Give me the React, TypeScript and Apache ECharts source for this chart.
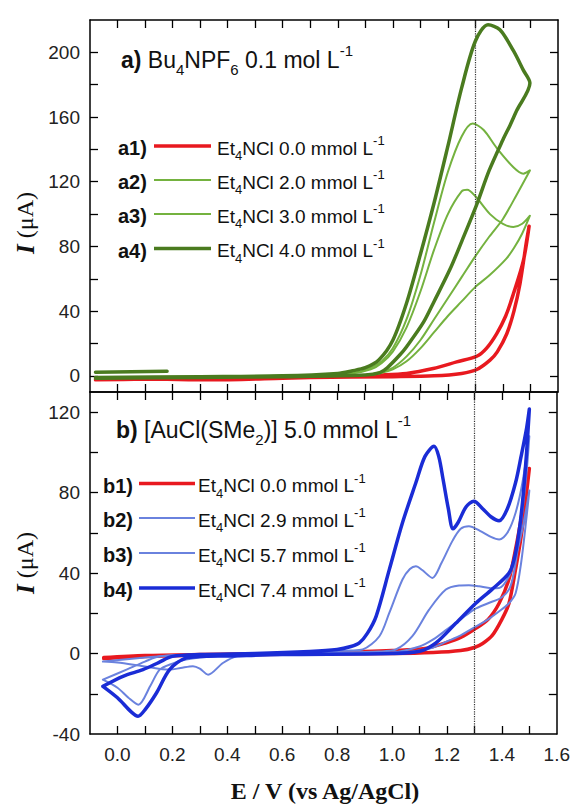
import React, { useEffect, useRef } from 'react';
import * as echarts from 'echarts';

// ---------- axis ticks / labels ----------
const xTickValues = [0, 0.1, 0.2, 0.3, 0.4, 0.5, 0.6, 0.7, 0.8, 0.9, 1.0, 1.1, 1.2, 1.3, 1.4, 1.5];
const xLabelValues = [0, 0.2, 0.4, 0.6, 0.8, 1.0, 1.2, 1.4, 1.6];
const topYTicks = [0, 20, 40, 60, 80, 100, 120, 140, 160, 180, 200];
const topYLabels = [0, 40, 80, 120, 160, 200];
const botYTicks = [-20, 0, 20, 40, 60, 80, 100, 120];
const botYLabels = [-40, 0, 40, 80, 120];

// ---------- panel a: Bu4NPF6 0.1 mol/L ----------
const a1Curve = [
  [-0.08, -2.5], [0.1, -2], [0.34, -2.5], [0.6, -1.5], [0.8, -0.5], [0.95, 0.5], [1.05, 1.5], [1.147, 4.5],
  [1.232, 8.6], [1.305, 12.1], [1.34, 17], [1.377, 26], [1.41, 37], [1.438, 50.7], [1.474, 71], [1.495, 92.5],
  [1.486, 83.6], [1.462, 57], [1.44, 40], [1.414, 26], [1.38, 15], [1.353, 9.7], [1.305, 3.9], [1.25, 1.5],
  [1.15, 0], [1.0, -0.5], [0.7, -1], [0.4, -1.5], [0.1, -2], [-0.08, -2.5],
];
const a2Curve = [
  [-0.08, -1], [0.3, -0.5], [0.6, 0], [0.8, 1], [0.88, 2.5], [0.92, 5], [0.96, 9], [1.0, 17], [1.05, 35],
  [1.1, 62], [1.15, 95], [1.2, 126], [1.25, 148], [1.29, 156], [1.33, 152], [1.377, 141], [1.438, 129],
  [1.474, 125], [1.498, 127],
  [1.45, 112], [1.4, 97], [1.35, 86], [1.3, 74], [1.25, 61], [1.2, 48], [1.15, 35], [1.1, 22], [1.05, 12],
  [1.0, 5], [0.95, 2], [0.9, 0.5], [0.6, -0.5], [0.3, -1], [-0.08, -1.5],
];
const a3Curve = [
  [-0.08, -1], [0.6, 0], [0.85, 1.5], [0.92, 4], [0.96, 8], [1.0, 15], [1.05, 30], [1.1, 52], [1.15, 78],
  [1.2, 100], [1.25, 114], [1.27, 115], [1.3, 111], [1.353, 100], [1.4, 94], [1.438, 92], [1.47, 94], [1.498, 99],
  [1.47, 88], [1.44, 79], [1.41, 72], [1.35, 62], [1.3, 55], [1.25, 46], [1.2, 37], [1.15, 27], [1.1, 17],
  [1.05, 9], [1.0, 4], [0.95, 1.5], [0.9, 0.5], [0.5, -0.5], [-0.08, -1.5],
];
const a4Curve = [
  [-0.08, -1], [0.3, -0.5], [0.6, 0], [0.8, 1.5], [0.85, 3], [0.9, 5], [0.95, 10], [1.0, 22], [1.05, 45],
  [1.1, 75], [1.15, 107], [1.2, 142], [1.25, 178], [1.3, 207], [1.346, 217], [1.389, 214], [1.438, 201],
  [1.474, 189], [1.498, 181],
  [1.45, 164], [1.426, 155], [1.4, 146], [1.35, 127], [1.305, 106], [1.25, 83], [1.208, 66], [1.15, 46],
  [1.111, 33], [1.05, 18], [1.026, 13], [0.98, 5], [0.953, 2], [0.9, 0.5], [0.6, -0.5], [0.3, -1], [-0.08, -1.5],
];
const a4Tail = [[-0.08, 2.2], [0.18, 2.8]];

// ---------- panel b: [AuCl(SMe2)] 5.0 mmol/L ----------
const b1Curve = [
  [-0.05, -2], [0.1, -1], [0.3, -0.5], [0.6, 0], [0.9, 1], [1.0, 1.5], [1.12, 2.5], [1.2, 5.5], [1.25, 8],
  [1.3, 12], [1.35, 17], [1.39, 25], [1.426, 37], [1.45, 52], [1.47, 67], [1.5, 92],
  [1.49, 80], [1.47, 58], [1.45, 42], [1.426, 25], [1.4, 17], [1.365, 9], [1.33, 5], [1.3, 3], [1.25, 1.5],
  [1.15, 0.5], [1.0, 0], [0.6, -0.3], [0.3, -0.8], [0.1, -1.5], [-0.05, -2.5],
];
const b2Curve = [
  [-0.053, -4], [0.1, -2], [0.2, -1], [0.4, -0.3], [0.6, 0], [0.8, 0.5], [0.95, 1], [1.014, 2], [1.074, 8.6],
  [1.135, 21.8], [1.196, 31.8], [1.244, 33.8], [1.28, 34], [1.317, 33.4], [1.36, 32.5], [1.39, 32.6],
  [1.426, 38.4], [1.45, 48], [1.475, 62], [1.5, 81],
  [1.49, 68], [1.47, 45], [1.45, 30], [1.426, 25], [1.4, 22], [1.35, 17], [1.3, 13], [1.25, 9], [1.2, 6],
  [1.15, 3], [1.1, 1.5], [1.0, 0.3], [0.7, -0.3], [0.5, -0.7], [0.433, -1.4], [0.384, -4.7], [0.33, -10.5],
  [0.3, -7.5], [0.275, -6.3], [0.23, -7.2], [0.19, -8], [0.094, -6.3], [0.0, -4.5], [-0.053, -4],
];
const b3Curve = [
  [-0.053, -13], [0.033, -8], [0.1, -4], [0.154, -1.4], [0.3, -0.5], [0.5, 0], [0.7, 0.8], [0.85, 1.5],
  [0.893, 2], [0.954, 8.6], [0.99, 20.2], [1.038, 36.8], [1.065, 42], [1.087, 43.4], [1.11, 41.5],
  [1.147, 37.6], [1.18, 45], [1.22, 56], [1.25, 62], [1.28, 63.3], [1.32, 61], [1.36, 58], [1.39, 56.7],
  [1.42, 60], [1.45, 70], [1.475, 85], [1.5, 108],
  [1.49, 90], [1.47, 65], [1.45, 45], [1.43, 33], [1.4, 28], [1.35, 25], [1.3, 22], [1.25, 17], [1.2, 12],
  [1.15, 7], [1.1, 3.5], [1.0, 0.5], [0.8, -0.2], [0.5, -0.5], [0.4, -1], [0.3, -2], [0.25, -3], [0.2, -5],
  [0.154, -8], [0.12, -16], [0.076, -25.4], [0.04, -22], [0.0, -17], [-0.053, -13],
];
const b4Curve = [
  [-0.053, -16.3], [0.02, -11.3], [0.093, -8], [0.15, -4.5], [0.2, -1.4], [0.3, -0.5], [0.5, 0], [0.7, 1],
  [0.8, 2], [0.85, 3.5], [0.881, 5.3], [0.91, 10], [0.942, 18.5], [0.99, 41.7], [1.038, 65], [1.087, 85],
  [1.12, 98], [1.153, 103], [1.17, 98], [1.186, 86.5], [1.205, 72], [1.222, 62], [1.24, 65], [1.27, 73],
  [1.298, 75.7], [1.33, 72], [1.36, 68], [1.39, 66], [1.42, 72], [1.45, 85], [1.47, 98], [1.49, 112], [1.5, 121.5],
  [1.49, 100], [1.475, 75], [1.46, 58], [1.445, 47], [1.426, 40], [1.365, 32], [1.305, 25], [1.232, 15],
  [1.16, 5.3], [1.1, 1.1], [1.0, 0], [0.6, -0.5], [0.4, -1.2], [0.3, -1.5], [0.25, -2.2], [0.19, -8],
  [0.142, -19.6], [0.1, -28], [0.075, -31.2], [0.05, -29], [0.0, -22], [-0.053, -16.3],
];

const markerE = 1.3;

const topLabels = ['a1)', 'a2)', 'a3)', 'a4)'];
const topConc = ['0.0', '2.0', '3.0', '4.0'];
const botLabels = ['b1)', 'b2)', 'b3)', 'b4)'];
const botConc = ['0.0', '2.9', '5.7', '7.4'];

const RED = '#e8191f';
const LGREEN = '#74b23f';
const DGREEN = '#4a7b1f';
const LBLUE = '#6a82de';
const DBLUE = '#1a2cd6';

const topColors = [RED, LGREEN, LGREEN, DGREEN];
const topWidths = [3.5, 2, 2, 3.5];
const botColors = [RED, LBLUE, LBLUE, DBLUE];
const botWidths = [3.5, 2, 2, 3.5];

const SANS = 'Liberation Sans, Arial, sans-serif';
const SERIF = 'Liberation Serif, Times New Roman, serif';

function line(name: string, data: number[][], color: string, width: number, gi: number, z: number, extra: any = {}) {
  return {
    type: 'line', name, data, xAxisIndex: gi * 2, yAxisIndex: gi * 2,
    showSymbol: false, symbol: 'none', smooth: 0.3, silent: true, z,
    lineStyle: { color, width, cap: 'round', join: 'round' },
    ...extra,
  };
}

function markLineAt(e: number) {
  return {
    silent: true, symbol: ['none', 'none'], label: { show: false },
    lineStyle: { type: 'dotted', color: '#333', width: 1.2 },
    data: [{ xAxis: e }],
  };
}

function xAxis(gi: number, pos: 'top' | 'bottom', labels: boolean) {
  return {
    type: 'value', gridIndex: gi, position: pos, min: -0.1, max: 1.6,
    axisLine: { show: true, onZero: false, lineStyle: { color: '#000', width: 1.5 } },
    axisTick: { show: true, inside: true, length: 8, customValues: xTickValues, lineStyle: { color: '#000', width: 1.3 } },
    axisLabel: labels
      ? { show: true, customValues: xLabelValues, margin: 11, fontSize: 19, fontFamily: SANS, color: '#222',
          formatter: (v: number) => v.toFixed(1) }
      : { show: false },
    splitLine: { show: false },
  };
}

function yAxis(gi: number, pos: 'left' | 'right', min: number, max: number, ticks: number[], labels: number[] | null) {
  return {
    type: 'value', gridIndex: gi, position: pos, min, max,
    axisLine: { show: true, onZero: false, lineStyle: { color: '#000', width: 1.5 } },
    axisTick: { show: true, inside: true, length: 8, customValues: ticks, lineStyle: { color: '#000', width: 1.3 } },
    axisLabel: labels
      ? { show: true, customValues: labels, margin: 10, fontSize: 19, fontFamily: SANS, color: '#222' }
      : { show: false },
    splitLine: { show: false },
  };
}

const legendRich = {
  n: { fontFamily: SANS, fontSize: 19, lineHeight: 28, verticalAlign: 'middle', fill: '#111', color: '#111' },
  sub: { fontFamily: SANS, fontSize: 13, lineHeight: 13, verticalAlign: 'bottom', fill: '#111', color: '#111' },
  sup: { fontFamily: SANS, fontSize: 13, lineHeight: 18, verticalAlign: 'top', fill: '#111', color: '#111' },
  b: { fontFamily: SANS, fontSize: 20, fontWeight: 'bold', lineHeight: 28, verticalAlign: 'middle', fill: '#111', color: '#111' },
};
const titleRich = {
  n: { fontFamily: SANS, fontSize: 23, lineHeight: 34, verticalAlign: 'middle', fill: '#111', color: '#111' },
  sub: { fontFamily: SANS, fontSize: 15, lineHeight: 15, verticalAlign: 'bottom', fill: '#111', color: '#111' },
  sup: { fontFamily: SANS, fontSize: 15, lineHeight: 22, verticalAlign: 'top', fill: '#111', color: '#111' },
  b: { fontFamily: SANS, fontSize: 23, fontWeight: 'bold', lineHeight: 34, verticalAlign: 'middle', fill: '#111', color: '#111' },
};
const yNameRich = {
  i: { fontFamily: SERIF, fontSize: 25, fontStyle: 'italic', fontWeight: 'bold', fill: '#111', color: '#111' },
  n: { fontFamily: SERIF, fontSize: 24, fill: '#111', color: '#111' },
};

function textEl(x: number, y: number, text: string, rich: any, align = 'left', rotation = 0) {
  return {
    type: 'text', x, y, rotation, silent: true,
    style: { text, rich, align, verticalAlign: 'middle', textAlign: align, textVerticalAlign: 'middle', fill: '#111' },
  };
}

function legendBlock(labels: string[], conc: string[], colors: string[], widths: number[],
  rowsY: number[], labelX: number, lineX0: number, lineX1: number, textX: number) {
  const els: any[] = [];
  labels.forEach((lab, i) => {
    els.push(textEl(labelX, rowsY[i] + 2, `{b|${lab}}`, legendRich));
    els.push({
      type: 'line', silent: true,
      shape: { x1: lineX0, y1: rowsY[i], x2: lineX1, y2: rowsY[i] },
      style: { stroke: colors[i], lineWidth: widths[i] },
    });
    els.push(textEl(textX, rowsY[i] + 2, `{n|Et}{sub|4}{n|NCl ${conc[i]} mmol L}{sup|-1}`, legendRich));
  });
  return els;
}

export default function App() {
  const ref = useRef<HTMLDivElement>(null);
  useEffect(() => {
    if (!ref.current) return;
    const chart = echarts.init(ref.current, null, { renderer: 'svg', width: 573, height: 808 });
    const topData = [a1Curve, a2Curve, a3Curve, a4Curve];
    const botData = [b1Curve, b2Curve, b3Curve, b4Curve];
    const series: any[] = [];
    topData.forEach((d, i) => {
      series.push(line(topLabels[i], d, topColors[i], topWidths[i], 0, 2 + i,
        i === 0 ? { markLine: markLineAt(markerE) } : {}));
    });
    series.push(line('a4 tail', a4Tail, DGREEN, 3.5, 0, 6, { smooth: false }));
    botData.forEach((d, i) => {
      series.push(line(botLabels[i], d, botColors[i], botWidths[i], 1, 2 + i,
        i === 0 ? { markLine: markLineAt(markerE) } : {}));
    });

    const graphics: any[] = [
      textEl(121, 60, '{b|a)}{n| Bu}{sub|4}{n|NPF}{sub|6}{n| 0.1 mol L}{sup|-1}', titleRich),
      textEl(116, 430, '{b|b)}{n| [AuCl(SMe}{sub|2}{n|)] 5.0 mmol L}{sup|-1}', titleRich),
      ...legendBlock(topLabels, topConc, topColors, topWidths, [146, 180, 214, 248.5], 118, 154, 211, 217),
      ...legendBlock(botLabels, botConc, botColors, botWidths, [483.5, 518, 553, 588], 103, 139, 195, 198),
      textEl(25, 223, '{i|I}{n| (μA)}', yNameRich, 'center', Math.PI / 2),
      textEl(25, 563, '{i|I}{n| (μA)}', yNameRich, 'center', Math.PI / 2),
      {
        type: 'text', x: 325, y: 791, silent: true,
        style: {
          text: 'E / V (vs Ag/AgCl)', font: `bold 24px ${SERIF}`, fill: '#111',
          align: 'center', verticalAlign: 'middle', textAlign: 'center', textVerticalAlign: 'middle',
        },
      },
    ];

    chart.setOption({
      animation: false,
      backgroundColor: '#ffffff',
      grid: [
        { left: 90, top: 20, width: 468, height: 372 },
        { left: 90, top: 392, width: 468, height: 342 },
      ],
      xAxis: [xAxis(0, 'bottom', false), xAxis(0, 'top', false), xAxis(1, 'bottom', true), xAxis(1, 'top', false)],
      yAxis: [
        yAxis(0, 'left', -10, 220, topYTicks, topYLabels),
        yAxis(0, 'right', -10, 220, topYTicks, null),
        yAxis(1, 'left', -40, 130, botYTicks, botYLabels),
        yAxis(1, 'right', -40, 130, botYTicks, null),
      ],
      series,
      graphic: { elements: graphics },
    });
    return () => chart.dispose();
  }, []);
  return (
    <div
      ref={ref}
      style={{ position: 'absolute', left: 0, top: 0, width: 573, height: 808, background: '#fff' }}
    />
  );
}
